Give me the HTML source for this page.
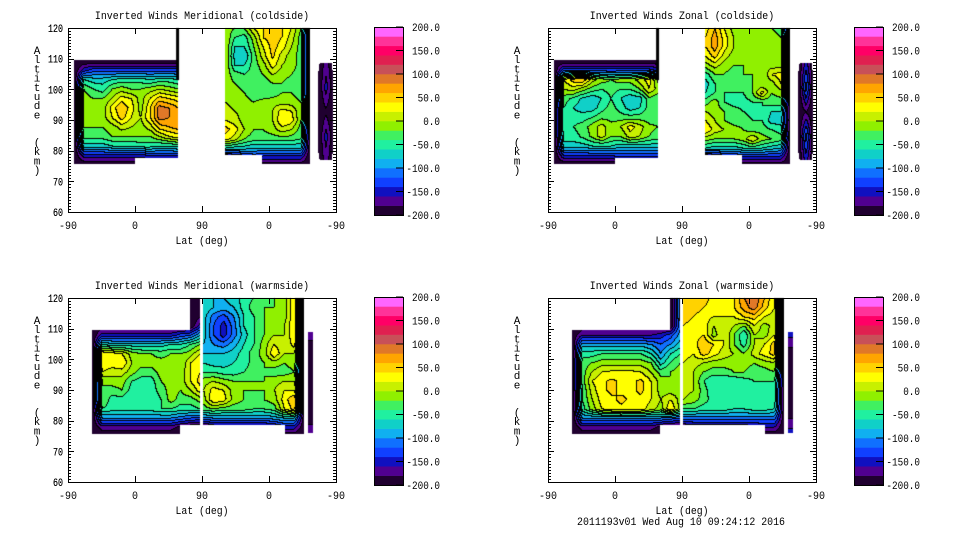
<!DOCTYPE html>
<html><head><meta charset="utf-8">
<style>
html,body{margin:0;padding:0;background:#fff;}
#wrap{position:relative;width:960px;height:540px;overflow:hidden;background:#fff;}
canvas,svg{position:absolute;left:0;top:0;}
text{font-family:"Liberation Mono",monospace;font-size:11px;fill:#000;}
</style></head>
<body>
<div id="wrap">
<canvas id="cv" width="960" height="540"></canvas>
<svg id="sv" width="960" height="540" xmlns="http://www.w3.org/2000/svg"></svg>
</div>
<script>
// ---------- colour scale ----------
const levelMin = -200, levelStep = 20;
const paletteColors = ["#200030","#500090","#1010c0","#1040ff","#1070ff","#10b0f0","#10d0c8","#20f0a0","#40f060","#90f000",
"#c8f000","#ffff00","#ffd200","#ffa500","#e07828","#c85058","#e02050","#ff0066","#ff3399","#ff66ff"];
const colorbarTicks = [200,150,100,50,0,-50,-100,-150,-200];
const yTicks = [120,110,100,90,80,70,60];
const xTickPos = [0,90,180,270,360];
const xTickLabels = ["-90","0","90","0","-90"];

// ---------- data: region value grids (rows top->bottom, cols left->right) ----------
const polyA_cold = [[8,75.5],[8,109.5],[148,109.5],[148,77.5],[90,77.5],[90,75.5]];
const polyB_cold = [[211,78.6],[211,120],[325,120],[325,75.5],[261,75.5],[261,78.6]];
const polyC_cold = [[338,77],[336,80],[336,105],[338,108.5],[354,108.5],[356,105],[356,80],[354,77]];
const polyA_warm = [[32.3,75.5],[32.3,109.5],[164,109.5],[164,120],[177.4,120],[177.4,78.6],[150.5,78.6],[150.5,75.5]];
const polyB_warm = [[181.4,78.6],[181.4,120],[317.2,120],[317.2,75.5],[291.7,75.5],[291.7,78.6]];
const polyC_warm = [[322.4,76],[322.4,109],[329,109],[329,76]];

const merCold_A = [
[-200,-200,-200,-200,-200,-200,-200,-200,-200,-200,-200,-200],
[-200,-150,-130,-130,-130,-130,-130,-130,-130,-130,-130,-130],
[-200,-60,-70,-70,-60,-50,-50,-50,-60,-50,-50,-60],
[-200,-20,-40,-50,-20,-10,-20,-20,-10,0,-10,-20],
[-200,-10,-20,-20,0,30,20,-10,20,50,40,30],
[-200,-10,-10,-10,30,60,30,-10,40,90,80,60],
[-200,-10,-10,-10,20,50,20,0,40,90,80,70],
[-200,-20,-20,-20,-10,10,0,-10,10,50,60,70],
[-200,-30,-30,-30,-20,-20,-20,-20,-20,0,20,30],
[-200,-70,-70,-70,-60,-60,-60,-50,-50,-60,-60,-50],
[-200,-150,-150,-150,-150,-150,-150,-150,-140,-140,-140,-140],
[-200,-200,-200,-200,-200,-200,-200,-200,-200,-200,-200,-200]];
const merCold_B = [
[-10,-20,-20,20,40,40,40,20,-20,-200],
[0,-40,-50,-10,40,50,40,10,-30,-200],
[0,-60,-60,-20,20,50,30,0,-30,-200],
[0,-70,-80,-30,10,45,10,-10,-30,-200],
[0,-60,-60,-30,-10,30,0,-10,-30,-200],
[-10,-30,-40,-30,-20,0,-10,-20,-30,-200],
[-10,-20,-30,-40,-40,-20,-20,-30,-30,-200],
[0,-10,-20,-40,-40,-30,-20,-20,-30,-200],
[0,-10,-10,-20,-10,-10,-10,-10,-20,-200],
[10,0,-10,-10,-10,0,30,20,-20,-200],
[20,10,-10,-20,-20,0,40,30,-20,-200],
[50,30,0,-20,-20,-10,10,0,-30,-200],
[30,10,-20,-30,-30,-30,-30,-30,-40,-200],
[-60,-70,-70,-80,-80,-80,-80,-80,-80,-200],
[-200,-170,-160,-140,-150,-150,-150,-150,-150,-200],
[-200,-200,-200,-200,-200,-200,-200,-200,-200,-200]];
const merCold_C = [[-200,-170,-200],[-200,-150,-200],[-200,-185,-200],[-200,-150,-200],[-200,-170,-200]];

const zonCold_A = [
[-200,-200,-200,-200,-200,-200,-200,-200,-200,-200,-200,-200],
[-200,-130,-130,-130,-130,-130,-130,-130,-130,-130,-130,-150],
[-200,20,50,60,10,-10,-20,-10,-10,10,30,-30],
[-200,0,10,-10,-30,-40,-30,-40,-40,-20,20,-10],
[-200,-30,-45,-65,-75,-60,-40,-60,-75,-70,-25,-35],
[-200,-40,-60,-70,-70,-50,-30,-50,-70,-60,-30,-30],
[-200,-40,-50,-50,-40,-25,-25,-30,-30,-30,-30,-30],
[-200,-40,-40,-30,-10,10,-15,0,30,10,-15,-20],
[-200,-50,-50,-35,-15,10,-20,-20,10,0,-20,-30],
[-200,-70,-70,-70,-60,-60,-60,-70,-70,-70,-70,-70],
[-200,-140,-140,-140,-140,-140,-140,-130,-130,-130,-130,-130],
[-200,-200,-200,-200,-200,-200,-200,-200,-200,-200,-200,-200]];
const zonCold_B = [
[30,60,20,-10,-20,-20,-20,-20,-30,-200],
[40,70,30,0,-10,-20,-10,-10,-20,-200],
[40,70,30,0,-10,-10,0,0,-20,-200],
[20,50,10,-10,-20,-10,0,-10,-20,-200],
[-10,10,-10,-20,-20,-20,-20,-10,-10,-200],
[-50,-20,-20,-30,-20,-20,-20,20,30,-200],
[-70,-40,-30,-30,-30,-20,-20,-10,20,-200],
[-60,-40,-40,-40,-40,-20,30,-20,-10,-200],
[-30,-10,-40,-50,-50,-40,-40,-30,-30,-200],
[0,-10,-20,-30,-40,-50,-40,-60,-60,-200],
[20,0,-20,-30,-30,-40,-40,-70,-70,-200],
[40,10,0,-10,-20,-30,-30,-40,-50,-200],
[-10,-20,-20,-20,-10,20,-10,-20,-30,-200],
[-60,-70,-70,-70,-60,-50,-60,-70,-80,-200],
[-200,-170,-160,-150,-150,-150,-150,-150,-150,-200],
[-200,-200,-200,-200,-200,-200,-200,-200,-200,-200]];
const zonCold_C = [[-200,-150,-200],[-200,-110,-200],[-200,-180,-200],[-200,-110,-200],[-200,-150,-200]];

const merWarm_A = [
[-200,-200,-200,-200,-200,-200,-200,-200,-200,-200,-200,-200],
[-200,-200,-200,-200,-200,-200,-200,-200,-200,-200,-200,-200],
[-200,-200,-200,-200,-200,-200,-200,-200,-200,-200,-200,-180],
[-200,-200,-200,-200,-200,-200,-200,-200,-200,-200,-200,-150],
[-200,-150,-150,-150,-150,-150,-150,-150,-150,-130,-120,-80],
[-200,-60,-70,-70,-70,-70,-70,-70,-60,-60,-40,-20],
[-200,40,30,20,-10,-20,-20,-30,-20,-20,-10,20],
[-200,40,30,40,0,-10,-10,-10,-10,-20,20,40],
[-200,20,10,10,-10,-30,-30,-10,-10,-10,20,40],
[-200,-20,-10,-10,-40,-50,-50,-20,-10,-10,20,50],
[-200,-20,-30,-20,-50,-60,-50,-30,-10,-20,0,30],
[-200,-20,-50,-50,-60,-60,-60,-40,-10,-30,-30,-10],
[-200,-40,-50,-50,-50,-50,-50,-40,-40,-50,-50,-40],
[-200,-100,-100,-100,-100,-100,-100,-100,-100,-110,-120,-130],
[-200,-170,-170,-170,-170,-170,-170,-170,-170,-190,-200,-200],
[-200,-200,-200,-200,-200,-200,-200,-200,-200,-200,-200,-200]];
const merWarm_B = [
[-60,-80,-80,-70,-50,-40,-30,-20,-10,40,-200],
[-60,-80,-90,-80,-50,-30,-20,-20,-10,40,-200],
[-70,-110,-130,-100,-60,-40,-20,-10,-10,40,-200],
[-70,-120,-150,-110,-60,-40,-20,-10,0,40,-200],
[-70,-120,-150,-110,-70,-40,-20,0,0,40,-200],
[-80,-100,-110,-90,-60,-40,-10,20,0,30,-200],
[-80,-80,-80,-70,-50,-30,-10,40,0,0,-200],
[-60,-70,-70,-60,-50,-30,-20,-10,-20,-10,-200],
[-40,-40,-50,-50,-40,-30,-20,-30,-30,-20,-200],
[-10,0,-10,-20,-20,-20,-20,-10,0,0,-200],
[0,30,20,-10,-20,-20,-20,0,20,20,-200],
[-10,40,30,-10,-20,-30,-20,-10,30,60,-200],
[-30,-20,-30,-30,-30,-40,-40,-30,20,50,-200],
[-110,-100,-100,-100,-100,-100,-100,-90,-80,-80,-200],
[-200,-180,-180,-180,-180,-180,-180,-170,-150,-150,-200],
[-200,-200,-200,-200,-200,-200,-200,-200,-200,-200,-200]];
const merWarm_C = [[-170,-170],[-200,-200],[-200,-200],[-200,-200],[-170,-170]];

const zonWarm_A = [
[-200,-200,-200,-200,-200,-200,-200,-200,-200,-200,-200,-90],
[-200,-200,-200,-200,-200,-200,-200,-200,-200,-200,-200,-90],
[-200,-200,-200,-200,-200,-200,-200,-200,-200,-200,-200,-90],
[-200,-200,-200,-200,-200,-200,-200,-200,-200,-200,-200,-100],
[-200,-160,-160,-160,-160,-160,-160,-160,-160,-150,-130,-90],
[-200,-90,-90,-90,-90,-90,-90,-90,-100,-120,-100,-70],
[-200,-50,-50,-40,-40,-40,-40,-40,-60,-100,-60,-40],
[-200,-30,-20,-10,-10,-10,-10,-10,-20,-70,-40,-20],
[-200,-30,0,20,25,25,25,20,0,-30,-20,-10],
[-200,-30,20,35,45,35,35,45,20,-10,-20,-10],
[-200,-40,10,35,45,35,35,45,20,-10,-10,-10],
[-200,-40,0,30,35,45,35,35,20,0,20,-10],
[-200,-50,-10,20,30,35,30,30,10,-10,40,-10],
[-200,-100,-100,-100,-100,-100,-100,-100,-100,-100,-110,-120],
[-200,-170,-170,-170,-170,-170,-170,-170,-170,-190,-200,-200],
[-200,-200,-200,-200,-200,-200,-200,-200,-200,-200,-200,-200]];
const zonWarm_B = [
[60,60,50,30,20,40,80,100,60,20,-200],
[60,50,40,30,20,40,70,90,50,20,-200],
[50,40,30,20,20,20,40,50,20,10,-200],
[40,30,30,0,20,0,-20,20,-10,10,-200],
[40,30,40,-10,20,-20,-60,0,-10,20,-200],
[40,30,60,40,20,-20,-50,0,20,50,-200],
[30,20,50,30,10,0,-20,10,30,50,-200],
[20,10,0,-10,-10,-10,-10,-20,-10,0,-200],
[10,0,-20,-30,-30,-20,-20,-30,-30,-20,-200],
[10,0,-40,-60,-60,-60,-50,-40,-40,-40,-200],
[10,0,-30,-60,-60,-60,-60,-40,-50,-50,-200],
[0,-10,-30,-50,-50,-60,-40,-40,-40,-50,-200],
[-40,-40,-50,-50,-50,-60,-60,-50,-50,-60,-200],
[-110,-110,-110,-110,-110,-110,-110,-110,-110,-110,-200],
[-190,-180,-180,-180,-180,-180,-180,-170,-160,-160,-200],
[-200,-200,-200,-200,-200,-200,-200,-200,-200,-200,-200]];
const zonWarm_C = [[-150,-150],[-200,-200],[-200,-200],[-200,-200],[-150,-150]];

const panels = [
 {key:"meridional-coldside", title:"Inverted Winds Meridional (coldside)", ox:0, oy:0, bar:true,
  regions:[{t0:8,t1:148,aTop:109.5,aBot:75.5,vals:merCold_A,poly:polyA_cold},
           {t0:211,t1:325,aTop:120,aBot:75,vals:merCold_B,poly:polyB_cold},
           {t0:336,t1:356,aTop:108.5,aBot:77,vals:merCold_C,poly:polyC_cold}]},
 {key:"zonal-coldside", title:"Inverted Winds Zonal (coldside)", ox:480, oy:0, bar:true,
  regions:[{t0:8,t1:148,aTop:109.5,aBot:75.5,vals:zonCold_A,poly:polyA_cold},
           {t0:211,t1:325,aTop:120,aBot:75,vals:zonCold_B,poly:polyB_cold},
           {t0:336,t1:356,aTop:108.5,aBot:77,vals:zonCold_C,poly:polyC_cold}]},
 {key:"meridional-warmside", title:"Inverted Winds Meridional (warmside)", ox:0, oy:270, bar:false,
  regions:[{t0:32.3,t1:177.4,aTop:120,aBot:75,vals:merWarm_A,poly:polyA_warm},
           {t0:181.4,t1:317.2,aTop:120,aBot:75,vals:merWarm_B,poly:polyB_warm},
           {t0:322.4,t1:329,aTop:109,aBot:76,vals:merWarm_C,poly:polyC_warm}]},
 {key:"zonal-warmside", title:"Inverted Winds Zonal (warmside)", ox:480, oy:270, bar:false,
  regions:[{t0:32.3,t1:177.4,aTop:120,aBot:75,vals:zonWarm_A,poly:polyA_warm},
           {t0:181.4,t1:317.2,aTop:120,aBot:75,vals:zonWarm_B,poly:polyB_warm},
           {t0:322.4,t1:329,aTop:109,aBot:76,vals:zonWarm_C,poly:polyC_warm}]}
];

// ---------- axis functions ----------
function xPx(p,t){return 68+p.ox+t*268/360;}
function yPx(p,a){return 28+p.oy+(120-a)*184/60;}
function bandOf(v){let b=Math.floor((v-levelMin)/levelStep);return Math.max(0,Math.min(paletteColors.length-1,b));}
function hexRgb(h){return [parseInt(h.substr(1,2),16),parseInt(h.substr(3,2),16),parseInt(h.substr(5,2),16)];}
const rgbs = paletteColors.map(hexRgb);

// ---------- contour fill ----------
const cv=document.getElementById('cv');
const ctx=cv.getContext('2d');
const W=960,H=540;
const bands=new Int16Array(W*H).fill(-1);
function sample(r,t,a){
  const rows=r.vals.length, cols=r.vals[0].length;
  let gx=(t-r.t0)/(r.t1-r.t0)*(cols-1), gy=(r.aTop-a)/(r.aTop-r.aBot)*(rows-1);
  gx=Math.max(0,Math.min(cols-1,gx)); gy=Math.max(0,Math.min(rows-1,gy));
  const i0=Math.min(cols-2,Math.floor(gx)), j0=Math.min(rows-2,Math.floor(gy));
  const fx=gx-i0, fy=gy-j0;
  const v00=r.vals[j0][i0], v10=r.vals[j0][i0+1], v01=r.vals[j0+1][i0], v11=r.vals[j0+1][i0+1];
  return (v00*(1-fx)+v10*fx)*(1-fy)+(v01*(1-fx)+v11*fx)*fy;
}
panels.forEach(p=>{
  p.regions.forEach(r=>{
    const path=new Path2D();
    let minX=1e9,maxX=-1e9,minY=1e9,maxY=-1e9;
    r.poly.forEach((pt,i)=>{
      const X=xPx(p,pt[0]),Y=yPx(p,pt[1]);
      if(i===0)path.moveTo(X,Y);else path.lineTo(X,Y);
      minX=Math.min(minX,X);maxX=Math.max(maxX,X);minY=Math.min(minY,Y);maxY=Math.max(maxY,Y);
    });
    path.closePath();
    for(let y=Math.floor(minY);y<=Math.ceil(maxY);y++){
      for(let x=Math.floor(minX);x<=Math.ceil(maxX);x++){
        if(x<0||y<0||x>=W||y>=H)continue;
        if(!ctx.isPointInPath(path,x+0.5,y+0.5))continue;
        const t=(x+0.5-68-p.ox)*360/268, a=120-(y+0.5-28-p.oy)*60/184;
        bands[y*W+x]=bandOf(sample(r,t,a));
      }
    }
  });
});
const img=ctx.createImageData(W,H);
for(let y=0;y<H;y++){for(let x=0;x<W;x++){
  const k=y*W+x, b=bands[k]; if(b<0)continue;
  let line=false;
  if(x>0&&bands[k-1]>=0&&bands[k-1]!==b)line=true;
  if(y>0&&bands[k-W]>=0&&bands[k-W]!==b)line=true;
  const c=line?[0,0,0]:rgbs[b];
  img.data[k*4]=c[0];img.data[k*4+1]=c[1];img.data[k*4+2]=c[2];img.data[k*4+3]=255;
}}
ctx.putImageData(img,0,0);
ctx.fillStyle="#000";
panels.forEach(p=>{ if(p.bar){ const x0=xPx(p,145.2),x1=xPx(p,149.2); ctx.fillRect(x0,yPx(p,120),x1-x0,yPx(p,103)-yPx(p,120)); } });

// ---------- axes (SVG) ----------
const NS="http://www.w3.org/2000/svg";
const sv=document.getElementById('sv');
function mk(tag,attrs,parent){const e=document.createElementNS(NS,tag);for(const k in attrs)e.setAttribute(k,attrs[k]);(parent||sv).appendChild(e);return e;}
function txt(s,x,y,anchor,len,parent){const e=mk('text',{x:x,y:y,'text-anchor':anchor},parent);if(len){e.setAttribute('textLength',len);e.setAttribute('lengthAdjust','spacingAndGlyphs');}e.textContent=s;return e;}

panels.forEach(p=>{
  const g=mk('g',{});
  
  
  const L=68+p.ox,R=336+p.ox,T=28+p.oy,B=212+p.oy;
  const frame=mk('rect',{x:L+0.5,y:T+0.5,width:R-L,height:B-T,fill:'none',stroke:'#000','stroke-width':1},g);
  
  
  for(let a=60;a<=120;a++){
    const y=Math.round(yPx(p,a))+0.5, len=(a%10===0)?6:3;
    const t1=mk('line',{x1:L,y1:y,x2:L+len,y2:y,stroke:'#000'},g);
    
    
    const t2=mk('line',{x1:R,y1:y,x2:R-len,y2:y,stroke:'#000'},g);
    
    
  }
  yTicks.forEach(a=>{
    const e=txt(String(a),63,yPx(p,a)+4,'end',String(a).length*5,g);
    
    
  });
  xTickPos.forEach((t,i)=>{
    const x=Math.round(xPx(p,t))+0.5;
    const a1=mk('line',{x1:x,y1:B,x2:x,y2:B-6,stroke:'#000'},g);
    
    
    const a2=mk('line',{x1:x,y1:T,x2:x,y2:T+6,stroke:'#000'},g);
    
    
    const e=txt(xTickLabels[i],xPx(p,t),229+p.oy,'middle',xTickLabels[i].length*6,g);
    
    
  });
  const xt=txt('Lat (deg)',202+p.ox,244+p.oy,'middle',53,g);
  
  
  const tt=txt(p.title,202+p.ox,19+p.oy,'middle',p.title.length*5.95,g);
  
  
  const yt=mk('text',{x:37+p.ox,y:0,'text-anchor':'middle'},g);
  
  
  const chars="Altitude  (km)";
  for(let i=0;i<chars.length;i++){
    const ts=mk('tspan',{x:37+p.ox,y:54+p.oy+i*9.2},yt);
    ts.textContent=chars[i]===' '?'\u00a0':chars[i];
  }
  const cb=mk('g',{},g);
  
  
  const cx0=374+p.ox, cy0=27+p.oy, cbH=188, bh=cbH/paletteColors.length;
  paletteColors.forEach((c,i)=>{
    const r=mk('rect',{x:cx0,y:cy0+cbH-(i+1)*bh,width:29,height:bh+0.3,fill:c},cb);
    
    
  });
  const cbf=mk('rect',{x:cx0+0.5,y:cy0+0.5,width:29,height:cbH,fill:'none',stroke:'#000'},cb);
  
  
  colorbarTicks.forEach(v=>{
    const y=cy0+(200-v)/400*cbH;
    const tl=mk('line',{x1:cx0+22,y1:y,x2:cx0+29,y2:y,stroke:'#000'},cb);
    
    
    const s=v.toFixed(1);
    const e=txt(s,440+p.ox,y+4,'end',s.length*5.6,cb);
    
    
  });
});
const stamp=txt('2011193v01 Wed Aug 10 09:24:12 2016',681,525,'middle',208);


</script>
</body></html>
